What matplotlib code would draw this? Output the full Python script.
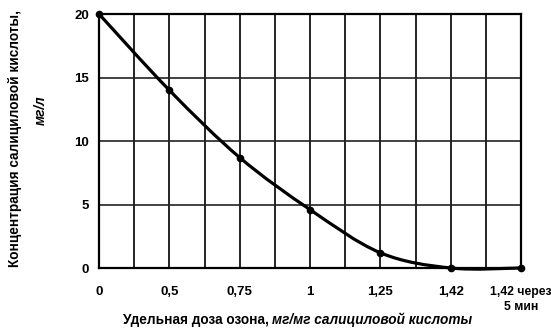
import matplotlib
matplotlib.use('Agg')
import matplotlib.pyplot as plt
from matplotlib.path import Path
from matplotlib.patches import PathPatch
import numpy as np

plt.rcParams['font.family'] = ['Liberation Sans', 'DejaVu Sans']

# Данные
categories = ['0', '0,5', '0,75', '1', '1,25', '1,42', '1,42 через\n5 мин']
concentration = [20, 14, 8.7, 4.6, 1.2, 0, 0]
y_ticks = [0, 5, 10, 15, 20]

fig = plt.figure(figsize=(5.51, 3.29), dpi=100)
ax = fig.add_axes([0.1797, 0.1854, 0.7659, 0.772])

x = np.arange(len(categories))
y = np.array(concentration, dtype=float)

# Сглаженная линия (как в Excel): кривые Безье по точкам
pts = np.column_stack([x, y])
n = len(pts)
verts = [pts[0]]
codes = [Path.MOVETO]
for i in range(n - 1):
    p_prev = pts[max(i - 1, 0)]
    p0 = pts[i]
    p1 = pts[i + 1]
    p_next = pts[min(i + 2, n - 1)]
    c1 = p0 + (p1 - p_prev) / 6
    c2 = p1 - (p_next - p0) / 6
    verts += [c1, c2, p1]
    codes += [Path.CURVE4] * 3
patch = PathPatch(Path(verts, codes), facecolor='none', edgecolor='black',
                  linewidth=2.3, clip_on=False, zorder=4)
ax.add_patch(patch)
ax.plot(x, y, 'o', color='black', markersize=4.5, clip_on=False, zorder=5)

ax.set_xlim(0, len(categories) - 1)
ax.set_ylim(0, 20)
ax.set_xticks(x)
ax.set_xticklabels(categories, fontsize=9.5, fontweight='bold', linespacing=1.3)
ax.set_xticks(np.arange(0.5, len(categories) - 1, 1.0), minor=True)
ax.set_yticks(y_ticks)
ax.set_yticklabels([str(v) for v in y_ticks], fontsize=9.5, fontweight='bold')
ax.tick_params(axis='both', which='both', length=0, pad=7)
ax.tick_params(axis='x', pad=13)
# последняя подпись — немного меньше, чтобы поместилась
last = ax.get_xticklabels()[-1]
last.set_fontsize(8.8)

ax.grid(True, which='both', axis='x', color='black', linewidth=1.2)
ax.grid(True, which='major', axis='y', color='#222222', linewidth=1.2)
for s in ax.spines.values():
    s.set_color('black')
    s.set_linewidth(1.6)

# Подписи осей
fig.text(0.027, 0.58, 'Концентрация салициловой кислоты,', rotation=90,
         ha='center', va='center', fontsize=9.8, fontweight='bold')
fig.text(0.074, 0.666, 'мг/л', rotation=90, ha='center', va='center',
         fontsize=9.8, fontweight='bold', style='italic')
fig.text(0.494, 0.027, 'Удельная доза озона, ', ha='right', va='center',
         fontsize=9.8, fontweight='bold')
fig.text(0.494, 0.027, 'мг/мг салициловой кислоты', ha='left', va='center',
         fontsize=9.8, fontweight='bold', style='italic')

fig.savefig('out.png', dpi=100, facecolor='white')
